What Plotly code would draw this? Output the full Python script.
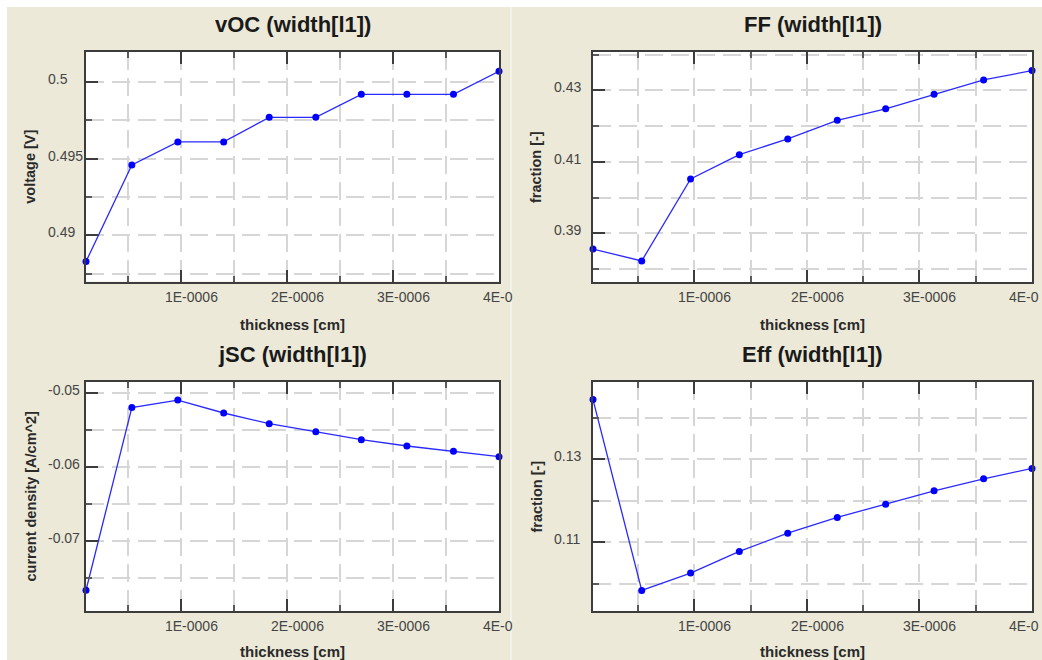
import plotly.graph_objects as go

# ---------------- data ----------------
thickness = [1.0e-7, 5.33e-7, 9.67e-7, 1.40e-6, 1.83e-6, 2.27e-6, 2.70e-6, 3.13e-6, 3.57e-6, 4.0e-6]

voc = [0.4883, 0.4946, 0.4961, 0.4961, 0.4977, 0.4977, 0.4992, 0.4992, 0.4992, 0.5007]
ff = [0.3856, 0.3823, 0.4052, 0.4120, 0.4164, 0.4216, 0.4248, 0.4289, 0.4329, 0.4355]
jsc = [-0.07666, -0.05197, -0.05095, -0.05270, -0.05414, -0.05522, -0.05630, -0.05716, -0.05788, -0.05860]
eff = [0.1444, 0.0984, 0.1026, 0.1078, 0.1122, 0.1160, 0.1192, 0.1224, 0.1253, 0.1278]

titles = ["vOC (width[l1])", "FF (width[l1])", "jSC (width[l1])", "Eff (width[l1])"]
x_title = "thickness [cm]"
y_titles = ["voltage [V]", "fraction [-]", "current density [A/cm^2]", "fraction [-]"]

x_major = [1e-6, 2e-6, 3e-6, 4e-6]
x_minor = [5e-7, 1.5e-6, 2.5e-6, 3.5e-6]
x_labels = ["1E-0006", "2E-0006", "3E-0006", "4E-0"]

voc_major = [0.49, 0.495, 0.5]
voc_minor = [0.4875, 0.4925, 0.4975]
voc_labels = ["0.49", "0.495", "0.5"]
ff_major = [0.39, 0.41, 0.43]
ff_minor = [0.38, 0.40, 0.42, 0.44]
ff_labels = ["0.39", "0.41", "0.43"]
jsc_major = [-0.07, -0.06, -0.05]
jsc_minor = [-0.075, -0.065, -0.055]
jsc_labels = ["-0.07", "-0.06", "-0.05"]
eff_major = [0.11, 0.13]
eff_minor = [0.10, 0.12, 0.14]
eff_labels = ["0.11", "0.13"]

x_range = [1.0e-7, 4.0e-6]
y_ranges = [[0.48700, 0.50196], [0.3764, 0.4407], [-0.07946, -0.04851], [0.09345, 0.14863]]

# ---------------- layout geometry (page pixels) ----------------
W, H = 1042, 660
def px(x):
    return x / W
def py(y):
    return 1 - y / H

# plot boxes: (left, right, top, bottom)
boxes = [(86, 499, 52, 281.5), (593, 1032, 52, 282), (86, 499, 382, 611), (593, 1032, 382, 611)]
title_y = [25, 25, 354, 354]
xlab_y = [297, 297, 626, 626]
xtitle_y = [324, 324, 651, 651]
ylab_x = [46, 552, 46, 552]
ytitle_x = [30, 536, 30, 536]

series = [voc, ff, jsc, eff]
y_major = [voc_major, ff_major, jsc_major, eff_major]
y_minor = [voc_minor, ff_minor, jsc_minor, eff_minor]
y_labels = [voc_labels, ff_labels, jsc_labels, eff_labels]

BG = "#ECE9D8"
AXC = "#3c3c3c"
GRID = "#d6d6d6"
TXT = "#2a2a2a"
TICKTXT = "#454545"
FONT = "Liberation Sans"

fig = go.Figure()
annotations = []
for i in range(4):
    sfx = "" if i == 0 else str(i + 1)
    xa, ya = "x" + sfx, "y" + sfx
    l, r, t, b = boxes[i]
    fig.add_trace(go.Scatter(
        x=thickness, y=series[i], xaxis=xa, yaxis=ya, mode="lines+markers",
        line=dict(color="#2a2aff", width=1.3),
        marker=dict(color="#0000ff", size=7),
        cliponaxis=False, showlegend=False, hoverinfo="x+y"))
    common_axis = dict(
        showline=True, linecolor=AXC, linewidth=2,
        showgrid=True, gridcolor=GRID, gridwidth=2, griddash="18px,8px",
        ticks="inside", ticklen=12, tickwidth=2, tickcolor=AXC,
        showticklabels=False, zeroline=False, tickmode="array",
    )
    xaxis = dict(common_axis, domain=[px(l), px(r)], range=x_range, anchor=ya,
                 tickvals=x_major, mirror="ticks",
                 minor=dict(tickmode="array", tickvals=x_minor, ticks="inside", ticklen=6,
                            tickwidth=2, tickcolor="#5a5a5a", showgrid=True,
                            gridcolor=GRID, gridwidth=2, griddash="18px,8px"))
    yaxis = dict(common_axis, domain=[py(b), py(t)], range=y_ranges[i], anchor=xa,
                 tickvals=y_major[i], mirror=True,
                 minor=dict(tickmode="array", tickvals=y_minor[i], ticks="inside", ticklen=6,
                            tickwidth=2, tickcolor="#5a5a5a", showgrid=True,
                            gridcolor=GRID, gridwidth=2, griddash="18px,8px"))
    fig.update_layout(**{"xaxis" + sfx: xaxis, "yaxis" + sfx: yaxis})

    cx = (l + r) / 2
    annotations.append(dict(text=titles[i], x=px(cx), y=py(title_y[i]), xref="paper", yref="paper",
                            xanchor="center", yanchor="middle", showarrow=False,
                            font=dict(family=FONT, size=22, color="#1a1a1a", weight="bold")))
    annotations.append(dict(text=x_title, x=px(cx), y=py(xtitle_y[i]), xref="paper", yref="paper",
                            xanchor="center", yanchor="middle", showarrow=False,
                            font=dict(family=FONT, size=15, color=TXT, weight="bold")))
    annotations.append(dict(text=y_titles[i], x=px(ytitle_x[i]), y=py((t + b) / 2), xref="paper", yref="paper",
                            xanchor="center", yanchor="middle", textangle=-90, showarrow=False,
                            font=dict(family=FONT, size=14.5, color=TXT, weight="bold")))
    for j, (v, s) in enumerate(zip(x_major, x_labels)):
        last_right = (j == len(x_major) - 1) and (r > 1000)
        if last_right:
            annotations.append(dict(text=s, x=px(1041), xref="paper", y=py(xlab_y[i]), yref="paper",
                                    xanchor="right", yanchor="middle", showarrow=False,
                                    font=dict(family=FONT, size=14, color=TICKTXT)))
        else:
            annotations.append(dict(text=s, x=v, xref=xa, xshift=-18, y=py(xlab_y[i]), yref="paper",
                                    xanchor="left", yanchor="middle", showarrow=False,
                                    font=dict(family=FONT, size=14, color=TICKTXT)))
    for v, s in zip(y_major[i], y_labels[i]):
        annotations.append(dict(text=s, x=px(ylab_x[i]), xref="paper", y=v, yref=ya, yshift=3,
                                xanchor="left", yanchor="middle", showarrow=False,
                                font=dict(family=FONT, size=14, color=TICKTXT)))

shapes = [
    dict(type="rect", xref="paper", yref="paper", x0=0, x1=px(7), y0=0, y1=1,
         fillcolor="white", line=dict(width=0), layer="below"),
    dict(type="rect", xref="paper", yref="paper", x0=0, x1=1, y0=py(7), y1=1,
         fillcolor="white", line=dict(width=0), layer="below"),
    dict(type="line", xref="paper", yref="paper", x0=px(511), x1=px(511), y0=0, y1=py(7),
         line=dict(color="#f7f6f0", width=1.5), layer="below"),
]

fig.update_layout(
    width=W, height=H, margin=dict(l=0, r=0, t=0, b=0), autosize=False,
    paper_bgcolor=BG, plot_bgcolor="white",
    annotations=annotations, shapes=shapes, showlegend=False,
)

fig.write_html("out.html", config={"displayModeBar": False},
               post_script="document.body.style.margin='0';document.body.style.overflow='hidden';")
